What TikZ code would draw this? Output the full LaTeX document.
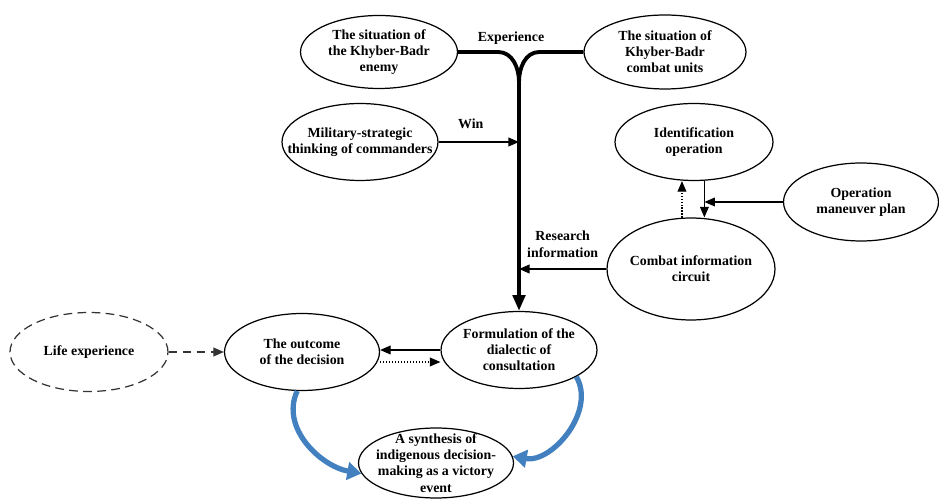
\documentclass[tikz,border=0pt]{standalone}
\usepackage{fontspec}
\setmainfont{Liberation Serif}
\usetikzlibrary{shapes.geometric, positioning, arrows.meta, calc}
\definecolor{flowblue}{RGB}{66,128,192}

\begin{document}
\begin{tikzpicture}[x=0.02cm, y=0.02cm,
    bubble/.style={ellipse, draw, line width=0.7pt, align=center,
                   inner sep=-3cm, font=\fontsize{7.9}{9.2}\selectfont\bfseries},
    dashbubble/.style={bubble, dash pattern=on 5pt off 3pt, draw=black!80},
    lbl/.style={align=center, font=\fontsize{7.9}{9.2}\selectfont\bfseries},
    arrow/.style={line width=0.7pt, -{Triangle[length=6pt,width=5pt]}},
    dotarrow/.style={arrow, densely dotted},
    dasharrow/.style={arrow, dash pattern=on 5pt off 3pt, draw=black!80},
    trunk/.style={line width=2.2pt},
    swoosh/.style={draw=flowblue, line width=3pt,
                   -{Triangle[length=8pt,width=10pt]}}
]
    \useasboundingbox (0,0) rectangle (939,500);

    % upper part
    \node[bubble, minimum width=3.14cm, minimum height=1.46cm] (enemy)  at (379,448) {The situation of\\the Khyber-Badr\\enemy};
    \node[bubble, minimum width=3.24cm, minimum height=1.48cm] (units)  at (665,448) {The situation of\\Khyber-Badr\\combat units};
    \node[bubble, minimum width=3.12cm, minimum height=1.54cm] (milit)  at (360,358) {Military-strategic\\thinking of commanders};
    \node[bubble, minimum width=3.16cm, minimum height=1.54cm] (ident)  at (694,358) {Identification\\operation};
    \node[bubble, minimum width=3.10cm, minimum height=1.56cm] (oper)   at (861,298) {Operation\\maneuver plan};
    \node[bubble, minimum width=3.36cm, minimum height=2.04cm] (combat) at (691,231) {Combat information\\circuit};

    % lower part
    \node[dashbubble, minimum width=3.16cm, minimum height=1.58cm] (life) at (89,148) {Life experience};
    \node[bubble, minimum width=3.10cm, minimum height=1.54cm] (outcome) at (302,148) {The outcome\\of the decision};
    \node[bubble, minimum width=3.12cm, minimum height=1.54cm] (formul)  at (519,150) {Formulation of the\\dialectic of\\consultation};
    \node[bubble, minimum width=3.10cm, minimum height=1.40cm] (synth)   at (436,37)  {A synthesis of\\indigenous decision-\\making as a victory\\event};

    \coordinate (fork) at (519,418);
    \node[lbl] (expe) at (511,462) {Experience};

    % main trunk
    \draw[trunk] (units.west) -- ++(-44,0) to[out=180,in=90] (fork);
    \draw[trunk, -{Triangle[length=9pt,width=7pt]}] (enemy.east) -- ++(40,0) to[out=0,in=90] (fork) -- (formul.north);

    \draw[arrow] (milit) -- (milit -| fork) node[pos=0.4, above=4pt, lbl] {Win};
    \draw[arrow] (combat) -- (combat -| fork) node[midway, above=3pt, lbl] {Research\\information};

    % identification loop
    \draw[arrow] (ident.-75) -- (ident.-75 |- combat.north);
    \draw[dotarrow] (combat.100) -- (combat.100 |- ident.south);
    \draw[arrow] (oper) -- (oper -| ident.-75);

    % decision
    \draw[dasharrow] (life) -- (outcome);
    \draw[arrow] (formul.west) -- (formul.west -| outcome.east);
    \draw[dotarrow] ([yshift=-0.2cm]outcome.east) -- ([yshift=-0.2cm]outcome.east -| formul.west);

    \draw[swoosh] (outcome.263) to[out=-115,in=170] (synth.188);
    \draw[swoosh] (formul.-25) to[out=-60,in=-10] (synth.5);
\end{tikzpicture}
\end{document}
